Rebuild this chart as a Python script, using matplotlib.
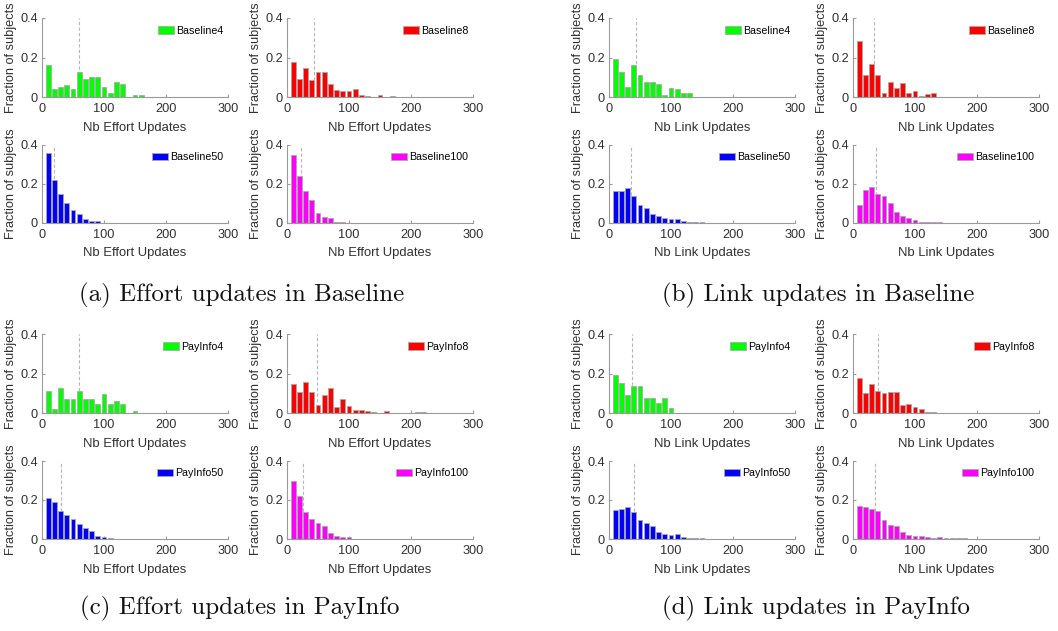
import numpy as np
import matplotlib
matplotlib.use("Agg")
import matplotlib.pyplot as plt

plt.rcParams['font.family'] = ['Liberation Sans', 'DejaVu Sans']

# histogram heights (fraction of subjects), bins of 10 updates starting at 10
effort_base4 = [0.16, 0.04, 0.05, 0.06, 0.04, 0.125, 0.09, 0.10, 0.10, 0.05, 0.02, 0.075, 0.065, 0, 0.01, 0.01]
effort_base8 = [0.175, 0.09, 0.145, 0.085, 0.125, 0.125, 0.065, 0.035, 0.03, 0.03, 0.04, 0.01, 0.005, 0, 0.01, 0, 0.005]
effort_base50 = [0.36, 0.22, 0.15, 0.105, 0.065, 0.045, 0.02, 0.01, 0.01, 0.002,
                 0, 0, 0, 0, 0, 0, 0, 0.002]
effort_base100 = [0.35, 0.24, 0.165, 0.12, 0.05, 0.03, 0.025, 0.005, 0.005, 0.002, 0.002, 0.002]

link_base4 = [0.19, 0.125, 0.05, 0.16, 0.11, 0.075, 0.075, 0.065, 0.012, 0.048, 0.038, 0.022, 0.022]
link_base8 = [0.285, 0.11, 0.165, 0.11, 0.018, 0.078, 0.045, 0.073, 0.018, 0.03, 0.006, 0.016, 0.022]
link_base50 = [0.165, 0.165, 0.18, 0.14, 0.09, 0.075, 0.045, 0.035, 0.025, 0.02, 0.02, 0.01,
               0.005, 0.005, 0.003, 0.002, 0.001]
link_base100 = [0.09, 0.17, 0.185, 0.15, 0.14, 0.10, 0.055, 0.035, 0.025, 0.015, 0.005, 0.005,
                0.003, 0.003, 0.002]

effort_pay4 = [0.11, 0.02, 0.125, 0.072, 0.072, 0.11, 0.072, 0.072, 0.048, 0.098, 0.048, 0.06, 0.048, 0, 0.012]
effort_pay8 = [0.145, 0.105, 0.155, 0.105, 0.04, 0.093, 0.125, 0.03, 0.073, 0.035, 0.015, 0.015,
               0.01, 0.005, 0, 0.01, 0, 0, 0, 0, 0.004, 0.004]
effort_pay50 = [0.21, 0.19, 0.145, 0.125, 0.105, 0.075, 0.055, 0.04, 0.015, 0.01, 0.004]
effort_pay100 = [0.30, 0.22, 0.14, 0.105, 0.08, 0.065, 0.03, 0.015, 0.01, 0.012, 0, 0.002]

link_pay4 = [0.19, 0.15, 0.09, 0.135, 0.135, 0.075, 0.075, 0.05, 0.075, 0.025]
link_pay8 = [0.175, 0.10, 0.145, 0.11, 0.10, 0.105, 0.105, 0.04, 0.045, 0.03, 0.02, 0.005, 0.005]
link_pay50 = [0.15, 0.155, 0.165, 0.14, 0.10, 0.08, 0.065, 0.035, 0.028, 0.022, 0.025, 0.008,
              0.005, 0.005, 0.005, 0.002]
link_pay100 = [0.17, 0.165, 0.155, 0.145, 0.10, 0.07, 0.065, 0.035, 0.02, 0.015, 0.015, 0.01,
               0.005, 0.01, 0.005, 0.003, 0.003, 0.003]

# dashed marker (median) per panel
effort_base_median = [60, 44, 19, 22]
link_base_median = [43, 34, 35, 37]
effort_pay_median = [59, 48, 30, 25]
link_pay_median = [37, 40, 40, 36]

sizes = ['4', '8', '50', '100']
colors = ['#00ff00', '#ff0000', '#0000ff', '#ff00ff']
captions = ['(a) Effort updates in Baseline', '(b) Link updates in Baseline',
            '(c) Effort updates in PayInfo', '(d) Link updates in PayInfo']

W, H = 1058, 631
fig = plt.figure(figsize=(W / 100, H / 100), dpi=100)

# pixel boxes of the axes
col_x = [(42, 228), (287, 473), (609, 795), (853, 1039)]
row_y = [(18, 97), (145, 223), (334, 413), (461, 539)]

groups = [
    ([effort_base4, effort_base8, effort_base50, effort_base100], effort_base_median, 'Baseline', 'Nb Effort Updates', 0, 0),
    ([link_base4, link_base8, link_base50, link_base100], link_base_median, 'Baseline', 'Nb Link Updates', 2, 0),
    ([effort_pay4, effort_pay8, effort_pay50, effort_pay100], effort_pay_median, 'PayInfo', 'Nb Effort Updates', 0, 2),
    ([link_pay4, link_pay8, link_pay50, link_pay100], link_pay_median, 'PayInfo', 'Nb Link Updates', 2, 2),
]

text_col = '#303030'
axis_col = '#9a9a9a'

for series, medians, treat, xlabel, c0, r0 in groups:
    for k in range(4):
        x0, x1 = col_x[c0 + k % 2]
        y0, y1 = row_y[r0 + k // 2]
        ax = fig.add_axes([x0 / W, 1 - y1 / H, (x1 - x0) / W, (y1 - y0) / H])
        vals = series[k]
        centers = 10 * np.arange(1, len(vals) + 1)
        ax.plot([medians[k], medians[k]], [0, 0.4], ls=(0, (3, 2)), color='#b5b5b5',
                lw=0.8, zorder=1)
        ax.bar(centers, vals, width=8, color=colors[k], edgecolor='#a8a8a8',
               linewidth=0.6, label=treat + sizes[k], zorder=2)
        ax.set_xlim(0, 300)
        ax.set_ylim(0, 0.4)
        ax.set_xticks([0, 100, 200, 300])
        ax.set_yticks([0, 0.2, 0.4])
        ax.set_yticklabels(['0', '0.2', '0.4'])
        for s in ['top', 'right']:
            ax.spines[s].set_visible(False)
        for s in ['left', 'bottom']:
            ax.spines[s].set_color(axis_col)
            ax.spines[s].set_linewidth(0.8)
        ax.tick_params(direction='in', length=2, color=axis_col, labelsize=9.2,
                       labelcolor=text_col)
        ax.tick_params(axis='x', pad=4)
        ax.tick_params(axis='y', pad=3)
        ax.set_xlabel(xlabel, fontsize=9.4, color=text_col, labelpad=5)
        ax.set_ylabel('Fraction of subjects', fontsize=9.2, color=text_col, labelpad=2)
        ax.legend(loc='center right', frameon=False, fontsize=7.7, handlelength=1.5,
                  handleheight=0.7, handletextpad=0.2, borderpad=0, borderaxespad=0,
                  bbox_to_anchor=(0.975, 0.84))

caption_pos = [(242, 295), (818, 295), (240, 608), (816, 608)]
for cap, (cx, cy) in zip(captions, caption_pos):
    fig.text(cx / W, 1 - cy / H, cap, family='cmr10', fontsize=18,
             ha='center', va='center', color='#111111')

fig.savefig('out.png', dpi=100)
